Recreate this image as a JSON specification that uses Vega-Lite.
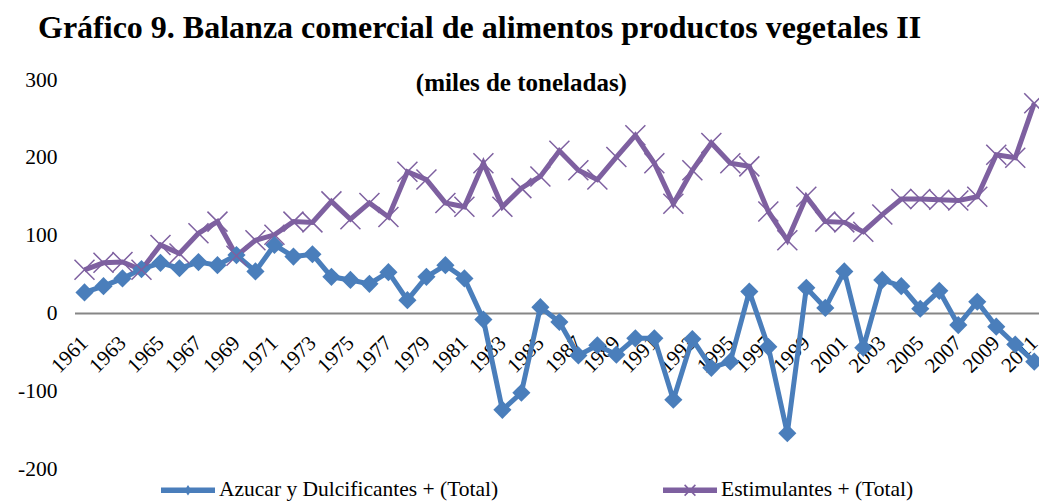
{
  "$schema": "https://vega.github.io/schema/vega-lite/v6.json",
  "width": 964,
  "height": 389,
  "autosize": {"type": "none"},
  "padding": {"left": 75, "top": 80, "right": 0, "bottom": 32},
  "background": "white",
  "config": {
    "view": {"stroke": null},
    "font": "Liberation Serif"
  },
  "title": {
    "text": "Gráfico 9. Balanza comercial de alimentos productos vegetales II",
    "anchor": "start",
    "frame": "group",
    "dx": -37,
    "font": "Liberation Serif",
    "fontSize": 32,
    "fontWeight": "bold",
    "color": "black",
    "offset": 24
  },
  "data": {
    "values": [
      {"year": 1961, "serie": "Azucar y Dulcificantes + (Total)", "value": 27},
      {"year": 1962, "serie": "Azucar y Dulcificantes + (Total)", "value": 35},
      {"year": 1963, "serie": "Azucar y Dulcificantes + (Total)", "value": 45},
      {"year": 1964, "serie": "Azucar y Dulcificantes + (Total)", "value": 57},
      {"year": 1965, "serie": "Azucar y Dulcificantes + (Total)", "value": 65},
      {"year": 1966, "serie": "Azucar y Dulcificantes + (Total)", "value": 58},
      {"year": 1967, "serie": "Azucar y Dulcificantes + (Total)", "value": 66},
      {"year": 1968, "serie": "Azucar y Dulcificantes + (Total)", "value": 62},
      {"year": 1969, "serie": "Azucar y Dulcificantes + (Total)", "value": 75},
      {"year": 1970, "serie": "Azucar y Dulcificantes + (Total)", "value": 54},
      {"year": 1971, "serie": "Azucar y Dulcificantes + (Total)", "value": 88},
      {"year": 1972, "serie": "Azucar y Dulcificantes + (Total)", "value": 73},
      {"year": 1973, "serie": "Azucar y Dulcificantes + (Total)", "value": 76},
      {"year": 1974, "serie": "Azucar y Dulcificantes + (Total)", "value": 47},
      {"year": 1975, "serie": "Azucar y Dulcificantes + (Total)", "value": 43},
      {"year": 1976, "serie": "Azucar y Dulcificantes + (Total)", "value": 38},
      {"year": 1977, "serie": "Azucar y Dulcificantes + (Total)", "value": 53},
      {"year": 1978, "serie": "Azucar y Dulcificantes + (Total)", "value": 17},
      {"year": 1979, "serie": "Azucar y Dulcificantes + (Total)", "value": 47},
      {"year": 1980, "serie": "Azucar y Dulcificantes + (Total)", "value": 62},
      {"year": 1981, "serie": "Azucar y Dulcificantes + (Total)", "value": 45},
      {"year": 1982, "serie": "Azucar y Dulcificantes + (Total)", "value": -8},
      {"year": 1983, "serie": "Azucar y Dulcificantes + (Total)", "value": -124},
      {"year": 1984, "serie": "Azucar y Dulcificantes + (Total)", "value": -102},
      {"year": 1985, "serie": "Azucar y Dulcificantes + (Total)", "value": 8},
      {"year": 1986, "serie": "Azucar y Dulcificantes + (Total)", "value": -11},
      {"year": 1987, "serie": "Azucar y Dulcificantes + (Total)", "value": -54},
      {"year": 1988, "serie": "Azucar y Dulcificantes + (Total)", "value": -41},
      {"year": 1989, "serie": "Azucar y Dulcificantes + (Total)", "value": -53},
      {"year": 1990, "serie": "Azucar y Dulcificantes + (Total)", "value": -32},
      {"year": 1991, "serie": "Azucar y Dulcificantes + (Total)", "value": -32},
      {"year": 1992, "serie": "Azucar y Dulcificantes + (Total)", "value": -111},
      {"year": 1993, "serie": "Azucar y Dulcificantes + (Total)", "value": -33},
      {"year": 1994, "serie": "Azucar y Dulcificantes + (Total)", "value": -70},
      {"year": 1995, "serie": "Azucar y Dulcificantes + (Total)", "value": -62},
      {"year": 1996, "serie": "Azucar y Dulcificantes + (Total)", "value": 28},
      {"year": 1997, "serie": "Azucar y Dulcificantes + (Total)", "value": -43},
      {"year": 1998, "serie": "Azucar y Dulcificantes + (Total)", "value": -154},
      {"year": 1999, "serie": "Azucar y Dulcificantes + (Total)", "value": 33},
      {"year": 2000, "serie": "Azucar y Dulcificantes + (Total)", "value": 7},
      {"year": 2001, "serie": "Azucar y Dulcificantes + (Total)", "value": 54},
      {"year": 2002, "serie": "Azucar y Dulcificantes + (Total)", "value": -44},
      {"year": 2003, "serie": "Azucar y Dulcificantes + (Total)", "value": 43},
      {"year": 2004, "serie": "Azucar y Dulcificantes + (Total)", "value": 35},
      {"year": 2005, "serie": "Azucar y Dulcificantes + (Total)", "value": 6},
      {"year": 2006, "serie": "Azucar y Dulcificantes + (Total)", "value": 29},
      {"year": 2007, "serie": "Azucar y Dulcificantes + (Total)", "value": -15},
      {"year": 2008, "serie": "Azucar y Dulcificantes + (Total)", "value": 15},
      {"year": 2009, "serie": "Azucar y Dulcificantes + (Total)", "value": -17},
      {"year": 2010, "serie": "Azucar y Dulcificantes + (Total)", "value": -40},
      {"year": 2011, "serie": "Azucar y Dulcificantes + (Total)", "value": -62},
      {"year": 1961, "serie": "Estimulantes + (Total)", "value": 56},
      {"year": 1962, "serie": "Estimulantes + (Total)", "value": 65},
      {"year": 1963, "serie": "Estimulantes + (Total)", "value": 66},
      {"year": 1964, "serie": "Estimulantes + (Total)", "value": 56},
      {"year": 1965, "serie": "Estimulantes + (Total)", "value": 88},
      {"year": 1966, "serie": "Estimulantes + (Total)", "value": 77},
      {"year": 1967, "serie": "Estimulantes + (Total)", "value": 103},
      {"year": 1968, "serie": "Estimulantes + (Total)", "value": 118},
      {"year": 1969, "serie": "Estimulantes + (Total)", "value": 74},
      {"year": 1970, "serie": "Estimulantes + (Total)", "value": 94},
      {"year": 1971, "serie": "Estimulantes + (Total)", "value": 101},
      {"year": 1972, "serie": "Estimulantes + (Total)", "value": 118},
      {"year": 1973, "serie": "Estimulantes + (Total)", "value": 117},
      {"year": 1974, "serie": "Estimulantes + (Total)", "value": 144},
      {"year": 1975, "serie": "Estimulantes + (Total)", "value": 121},
      {"year": 1976, "serie": "Estimulantes + (Total)", "value": 142},
      {"year": 1977, "serie": "Estimulantes + (Total)", "value": 124},
      {"year": 1978, "serie": "Estimulantes + (Total)", "value": 182},
      {"year": 1979, "serie": "Estimulantes + (Total)", "value": 172},
      {"year": 1980, "serie": "Estimulantes + (Total)", "value": 142},
      {"year": 1981, "serie": "Estimulantes + (Total)", "value": 137},
      {"year": 1982, "serie": "Estimulantes + (Total)", "value": 193},
      {"year": 1983, "serie": "Estimulantes + (Total)", "value": 137},
      {"year": 1984, "serie": "Estimulantes + (Total)", "value": 161},
      {"year": 1985, "serie": "Estimulantes + (Total)", "value": 176},
      {"year": 1986, "serie": "Estimulantes + (Total)", "value": 209},
      {"year": 1987, "serie": "Estimulantes + (Total)", "value": 184},
      {"year": 1988, "serie": "Estimulantes + (Total)", "value": 172},
      {"year": 1989, "serie": "Estimulantes + (Total)", "value": 201},
      {"year": 1990, "serie": "Estimulantes + (Total)", "value": 229},
      {"year": 1991, "serie": "Estimulantes + (Total)", "value": 193},
      {"year": 1992, "serie": "Estimulantes + (Total)", "value": 141},
      {"year": 1993, "serie": "Estimulantes + (Total)", "value": 184},
      {"year": 1994, "serie": "Estimulantes + (Total)", "value": 219},
      {"year": 1995, "serie": "Estimulantes + (Total)", "value": 193},
      {"year": 1996, "serie": "Estimulantes + (Total)", "value": 189},
      {"year": 1997, "serie": "Estimulantes + (Total)", "value": 131},
      {"year": 1998, "serie": "Estimulantes + (Total)", "value": 94},
      {"year": 1999, "serie": "Estimulantes + (Total)", "value": 150},
      {"year": 2000, "serie": "Estimulantes + (Total)", "value": 118},
      {"year": 2001, "serie": "Estimulantes + (Total)", "value": 117},
      {"year": 2002, "serie": "Estimulantes + (Total)", "value": 105},
      {"year": 2003, "serie": "Estimulantes + (Total)", "value": 127},
      {"year": 2004, "serie": "Estimulantes + (Total)", "value": 147},
      {"year": 2005, "serie": "Estimulantes + (Total)", "value": 147},
      {"year": 2006, "serie": "Estimulantes + (Total)", "value": 146},
      {"year": 2007, "serie": "Estimulantes + (Total)", "value": 145},
      {"year": 2008, "serie": "Estimulantes + (Total)", "value": 150},
      {"year": 2009, "serie": "Estimulantes + (Total)", "value": 204},
      {"year": 2010, "serie": "Estimulantes + (Total)", "value": 200},
      {"year": 2011, "serie": "Estimulantes + (Total)", "value": 270}
    ]
  },
  "layer": [
    {
      "data": {"values": [{}]},
      "mark": {"type": "rule", "color": "#868686", "strokeWidth": 2},
      "encoding": {"y": {"datum": 0, "type": "quantitative"}}
    },
    {
      "mark": {"type": "line", "strokeWidth": 5},
      "encoding": {
        "x": {
          "field": "year",
          "type": "quantitative",
          "scale": {"domain": [1960.5, 2011.25], "nice": false, "zero": false},
          "axis": {
            "title": null,
            "values": [1961, 1963, 1965, 1967, 1969, 1971, 1973, 1975, 1977, 1979, 1981, 1983, 1985, 1987, 1989, 1991, 1993, 1995, 1997, 1999, 2001, 2003, 2005, 2007, 2009, 2011],
            "tickCount": 60,
            "format": "d",
            "labelAngle": -45,
            "labelAlign": "right",
            "labelBaseline": "middle",
            "domain": false,
            "ticks": false,
            "grid": false,
            "offset": -155.5,
            "labelPadding": 26,
            "labelFont": "Liberation Serif",
            "labelFontSize": 21,
            "labelColor": "black",
            "labelOverlap": false,
            "labelFlush": false
          }
        },
        "y": {
          "field": "value",
          "type": "quantitative",
          "scale": {"domain": [-200, 300], "nice": false},
          "axis": {
            "title": null,
            "values": [-200, -100, 0, 100, 200, 300],
            "tickCount": 10,
            "labelExpr": "'' + datum.value",
            "domain": false,
            "ticks": false,
            "grid": false,
            "labelPadding": 18,
            "labelFont": "Liberation Serif",
            "labelFontSize": 21.5,
            "labelColor": "black"
          }
        },
        "color": {
          "field": "serie",
          "type": "nominal",
          "scale": {
            "domain": ["Azucar y Dulcificantes + (Total)", "Estimulantes + (Total)"],
            "range": ["#4A7EBB", "#7E60A0"]
          },
          "legend": {
            "title": null,
            "orient": "none",
            "direction": "horizontal",
            "legendX": 86,
            "legendY": 383,
            "columnPadding": 164,
            "labelOffset": 4,
            "labelLimit": 500,
            "labelFont": "Liberation Serif",
            "labelFontSize": 21.5,
            "labelColor": "black",
            "symbolSize": 2916,
            "symbolStrokeWidth": 0,
            "symbolOpacity": 1,
            "encode": {
              "symbols": {
                "update": {
                  "shape": {"signal": "datum.value === 'Azucar y Dulcificantes + (Total)' ? 'M-1,-0.1H1V0.1H-1Z M0,-0.19L0.13,0L0,0.19L-0.13,0Z' : 'M-1,-0.1H1V0.1H-1Z M-0.18,-0.22L0.22,0.18L0.18,0.22L-0.22,-0.18Z M0.18,-0.22L0.22,-0.18L-0.18,0.22L-0.22,0.18Z'"},
                  "fill": {"signal": "scale('color', datum.value)"},
                  "strokeWidth": {"value": 0},
                  "opacity": {"value": 1}
                }
              }
            }
          }
        }
      }
    },
    {
      "transform": [{"filter": "datum.serie === 'Azucar y Dulcificantes + (Total)'"}],
      "mark": {"type": "point", "shape": "diamond", "filled": true, "size": 330, "color": "#4A7EBB", "opacity": 1},
      "encoding": {
        "x": {"field": "year", "type": "quantitative"},
        "y": {"field": "value", "type": "quantitative"}
      }
    },
    {
      "transform": [{"filter": "datum.serie === 'Estimulantes + (Total)'"}],
      "mark": {"type": "point", "shape": "M-1,-1L1,1M-1,1L1,-1", "filled": false, "size": 400, "strokeWidth": 1.5, "color": "#7E60A0", "opacity": 1},
      "encoding": {
        "x": {"field": "year", "type": "quantitative"},
        "y": {"field": "value", "type": "quantitative"}
      }
    },
    {
      "data": {"values": [{}]},
      "mark": {"type": "text", "font": "Liberation Serif", "fontSize": 25, "fontWeight": "bold", "color": "black", "align": "center", "baseline": "middle"},
      "encoding": {
        "x": {"datum": 1984, "type": "quantitative"},
        "y": {"datum": 296, "type": "quantitative"},
        "text": {"value": "(miles de toneladas)"}
      }
    }
  ]
}
